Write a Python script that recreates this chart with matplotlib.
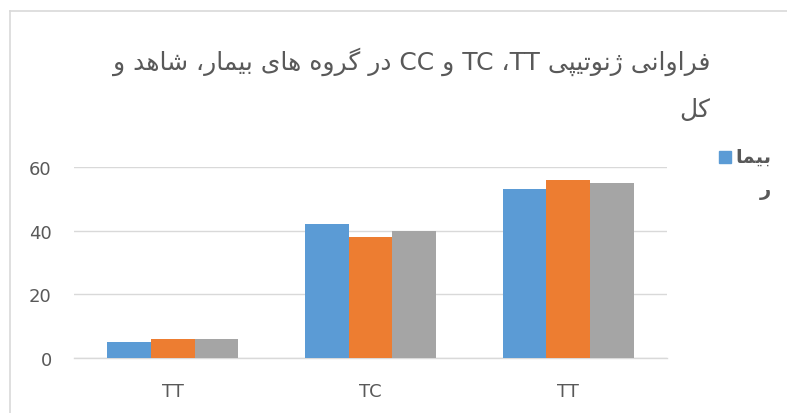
import matplotlib
matplotlib.use('Agg')
import matplotlib.pyplot as plt
from matplotlib.lines import Line2D
from matplotlib.patches import Rectangle
import numpy as np

# ---- data ----
categories = ['TT', 'TC', 'TT']
series_names = ['بیمار', 'شاهد', 'کل']
patients = [5, 42, 53]
controls = [6, 38, 56]
total = [6, 40, 55]
colors = ['#5B9BD5', '#ED7D31', '#A5A5A5']

title_line1 = 'فراوانی ژنوتیپی TT، TC و CC در گروه های بیمار، شاهد و'
title_line2 = 'کل'
legend_line1 = 'بیما'
legend_line2 = 'ر'

# ---- minimal Persian shaping (matplotlib has no complex text layout) ----
# char: (isolated, final, initial, medial); None = does not join to the left
FORMS = {
    'ا': ('\uFE8D', '\uFE8E', None, None),
    'ب': ('\uFE8F', '\uFE90', '\uFE91', '\uFE92'),
    'ت': ('\uFE95', '\uFE96', '\uFE97', '\uFE98'),
    'د': ('\uFEA9', '\uFEAA', None, None),
    'ر': ('\uFEAD', '\uFEAE', None, None),
    'ش': ('\uFEB5', '\uFEB6', '\uFEB7', '\uFEB8'),
    'ف': ('\uFED1', '\uFED2', '\uFED3', '\uFED4'),
    'ل': ('\uFEDD', '\uFEDE', '\uFEDF', '\uFEE0'),
    'م': ('\uFEE1', '\uFEE2', '\uFEE3', '\uFEE4'),
    'ن': ('\uFEE5', '\uFEE6', '\uFEE7', '\uFEE8'),
    'ه': ('\uFEE9', '\uFEEA', '\uFEEB', '\uFEEC'),
    'و': ('\uFEED', '\uFEEE', None, None),
    'ژ': ('\uFB8A', '\uFB8B', None, None),
    'پ': ('\uFB56', '\uFB57', '\uFB58', '\uFB59'),
    'ک': ('\uFB8E', '\uFB8F', '\uFB90', '\uFB91'),
    'گ': ('\uFB92', '\uFB93', '\uFB94', '\uFB95'),
    'ی': ('\uFBFC', '\uFBFD', '\uFBFE', '\uFBFF'),
}


def joins_left(c):
    return c in FORMS and FORMS[c][2] is not None


def shape(s):
    out = []
    for i, c in enumerate(s):
        if c not in FORMS:
            out.append(c)
            continue
        prev_j = i > 0 and joins_left(s[i - 1])
        next_j = i + 1 < len(s) and s[i + 1] in FORMS and joins_left(c)
        iso, fin, ini, med = FORMS[c]
        if prev_j and next_j:
            out.append(med)
        elif prev_j:
            out.append(fin)
        elif next_j:
            out.append(ini)
        else:
            out.append(iso)
    return ''.join(out)


def visual(s):
    # split into latin / non-latin runs, RTL paragraph
    runs, cur, cur_latin = [], '', None
    for c in s:
        is_latin = c.isascii() and c.isalnum()
        if cur and is_latin != cur_latin:
            runs.append((cur, cur_latin))
            cur = ''
        cur += c
        cur_latin = is_latin
    if cur:
        runs.append((cur, cur_latin))
    parts = []
    for txt, lat in reversed(runs):
        parts.append(txt if lat else shape(txt)[::-1])
    return ''.join(parts)


plt.rcParams['font.family'] = ['DejaVu Sans']
TXT = '#595959'
GRID = '#D9D9D9'

fig = plt.figure(figsize=(7.87, 4.14), dpi=100)
W, H = 787, 414
ax = fig.add_axes([74 / W, 1 - 359 / H, (667 - 74) / W, (359 - 168) / H])

x = np.arange(len(categories))
bw = 0.221
for k, (vals, col) in enumerate(zip([patients, controls, total], colors)):
    ax.bar(x + (k - 1) * bw, vals, width=bw, color=col, zorder=3,
           label=series_names[k])

ax.set_xlim(-0.5, len(categories) - 0.5)
ax.set_ylim(0, 60)
ax.set_yticks([0, 20, 40, 60])
ax.set_xticks(x)
ax.set_xticklabels(categories)
ax.tick_params(axis='y', length=0, pad=16, labelsize=13, labelcolor=TXT)
ax.tick_params(axis='x', length=0, pad=17, labelsize=13, labelcolor=TXT)
ax.grid(axis='y', color=GRID, linewidth=1, zorder=0)
for sp in ['top', 'left', 'right']:
    ax.spines[sp].set_visible(False)
ax.spines['bottom'].set_color(GRID)
ax.spines['bottom'].set_linewidth(1)

# title (two wrapped lines, right aligned like the RTL source)
fig.text(710 / W, 1 - 62 / H, visual(title_line1), ha='right', va='center',
         fontsize=18, color=TXT)
fig.text(710 / W, 1 - 110 / H, visual(title_line2), ha='right', va='center',
         fontsize=18, color=TXT)

# legend (only first series visible, label wrapped)
fig.patches.append(Rectangle((719 / W, 1 - 164 / H), 12 / W, 12 / H,
                             transform=fig.transFigure, color=colors[0]))
fig.text(771 / W, 1 - 157 / H, visual(legend_line1), ha='right', va='center',
         fontsize=14, color=TXT, fontweight='bold')
fig.text(771 / W, 1 - 190 / H, visual(legend_line2), ha='right', va='center',
         fontsize=14, color=TXT, fontweight='bold')

# chart frame (left and top edges visible)
fig.add_artist(Line2D([10 / W, 10 / W], [0, 1 - 12 / H], color=GRID, lw=1.2,
                      transform=fig.transFigure))
fig.add_artist(Line2D([10 / W, 1], [1 - 12 / H, 1 - 12 / H], color=GRID, lw=1.2,
                      transform=fig.transFigure))

fig.savefig('out.png', dpi=100)
